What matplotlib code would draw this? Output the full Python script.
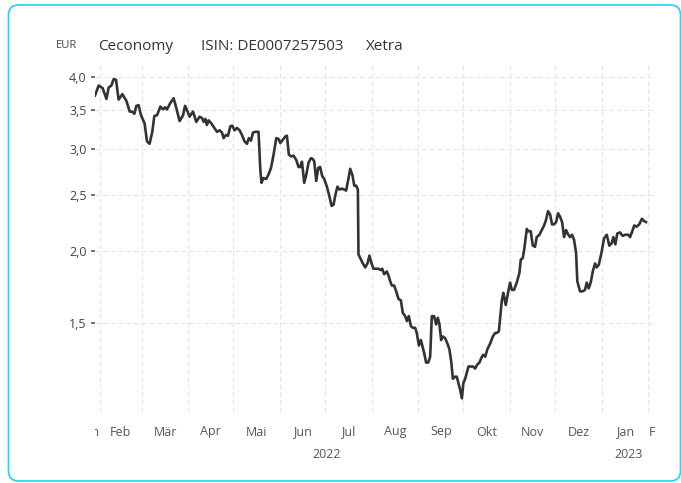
import datetime
import numpy as np
import matplotlib
matplotlib.use('Agg')
import matplotlib.pyplot as plt
import matplotlib.dates as mdates
from matplotlib.patches import FancyBboxPatch
from matplotlib.ticker import FixedLocator, NullLocator, FuncFormatter
from matplotlib.transforms import Bbox, TransformedBbox, blended_transform_factory, IdentityTransform

plt.rcParams['font.family'] = ['Open Sans', 'DejaVu Sans']

# price series (days counted from 2022-02-01)
start = datetime.datetime(2022, 2, 1)
day_offset = [
    -3.1, -0.7, 2.0, 4.5, 6.0, 7.8, 9.3, 10.9, 12.6, 15.1, 17.8, 20.0, 21.5, 23.1, 24.4, 25.9,
    27.5, 29.9, 31.5, 33.2, 35.0, 36.4, 38.2, 40.4, 42.2, 43.5, 44.8, 47.0, 49.2, 51.0, 53.2,
    55.5, 56.8, 58.5, 59.8, 62.1, 64.3, 66.5, 68.1, 69.2, 70.3, 71.4, 72.5, 74.3, 76.3, 78.1,
    79.8, 81.4, 82.5, 84.0, 85.4, 86.9, 88.2, 89.8, 91.4, 93.1, 94.7, 96.4, 98.0, 99.3, 100.7,
    102.0, 103.5, 105.7, 106.9, 107.7, 109.0, 110.8, 112.4, 114.0, 115.7, 117.5, 119.0, 120.2,
    121.9, 123.5, 124.6, 125.9, 127.5, 129.0, 130.8, 132.3, 133.4, 134.6, 136.1, 137.4, 139.0,
    140.6, 141.9, 142.8, 144.1, 145.4, 146.7, 148.1, 149.4, 151.2, 152.9, 154.3, 155.6, 156.9,
    158.2, 159.6, 161.2, 162.7, 164.0, 165.6, 166.7, 168.2, 169.4, 170.7, 171.8, 172.2, 173.8,
    175.1, 176.7, 178.2, 179.5, 180.9, 182.2, 184.0, 185.5, 187.1, 188.0, 189.3, 191.1, 192.2,
    193.3, 194.4, 195.9, 197.3, 198.8, 200.4, 201.7, 203.3, 204.4, 205.7, 207.1, 208.4, 209.9,
    211.0, 212.4, 213.7, 214.6, 215.9, 217.2, 218.6, 219.9, 221.0, 222.5, 223.9, 225.0, 226.1,
    227.2, 228.3, 229.9, 231.4, 232.7, 234.0, 235.0, 236.5, 237.6, 238.7, 239.8, 241.0, 242.0,
    243.2, 244.3, 245.4, 246.9, 248.3, 249.8, 251.3, 252.7, 254.3, 255.3, 256.5, 258.0, 259.8,
    261.6, 263.1, 264.2, 265.6, 267.6, 268.6, 270.2, 271.9, 273.1, 274.2, 275.7, 277.5, 279.3,
    280.2, 281.5, 282.6, 284.2, 285.2, 286.8, 288.2, 289.7, 290.8, 292.6, 294.2, 295.7, 297.0,
    298.3, 299.7, 301.0, 302.3, 303.7, 305.0, 306.3, 307.7, 309.0, 310.3, 311.8, 313.0, 314.3,
    315.6, 317.0, 317.8, 319.6, 321.4, 322.9, 324.1, 325.4, 326.7, 328.1, 329.6, 330.7, 332.1,
    334.0, 335.6, 337.4, 339.1, 340.7, 341.8, 343.1, 344.4, 346.2, 348.0, 349.7, 351.7, 352.9,
    354.4, 355.7, 357.3, 359.0, 360.8, 362.2, 363.5,
]
price = [
    3.71, 3.86, 3.82, 3.66, 3.83, 3.86, 3.96, 3.95, 3.65, 3.73, 3.63, 3.48, 3.48, 3.45, 3.56, 3.57,
    3.43, 3.32, 3.09, 3.06, 3.21, 3.42, 3.43, 3.55, 3.51, 3.54, 3.51, 3.60, 3.67, 3.53, 3.35,
    3.43, 3.56, 3.48, 3.41, 3.48, 3.34, 3.41, 3.39, 3.34, 3.38, 3.30, 3.36, 3.32, 3.26, 3.21,
    3.23, 3.20, 3.13, 3.17, 3.16, 3.28, 3.29, 3.23, 3.26, 3.23, 3.17, 3.09, 3.06, 3.13, 3.10,
    3.20, 3.21, 3.21, 2.76, 2.62, 2.67, 2.66, 2.71, 2.78, 2.93, 3.13, 3.12, 3.07,
    3.11, 3.15, 3.16, 2.93, 2.91, 2.92, 2.87, 2.79, 2.79, 2.85, 2.62, 2.70, 2.84,
    2.89, 2.88, 2.85, 2.64, 2.78, 2.79, 2.69, 2.66, 2.58, 2.48, 2.39, 2.40, 2.50,
    2.58, 2.55, 2.56, 2.55, 2.54, 2.67, 2.77, 2.70, 2.59, 2.59, 2.55, 1.97, 1.93,
    1.90, 1.87, 1.90, 1.96, 1.90, 1.86, 1.86, 1.86, 1.85, 1.86, 1.82, 1.84, 1.81,
    1.77, 1.74, 1.74, 1.70, 1.65, 1.64, 1.56, 1.54, 1.51, 1.54, 1.48, 1.47, 1.47,
    1.44, 1.37, 1.40, 1.37, 1.33, 1.28, 1.28, 1.31, 1.54, 1.54, 1.49, 1.53, 1.49,
    1.40, 1.42, 1.41, 1.38, 1.35, 1.28, 1.20, 1.21, 1.21, 1.18, 1.15, 1.11, 1.18,
    1.20, 1.23, 1.26, 1.26, 1.26, 1.25, 1.27, 1.28, 1.31, 1.32, 1.31, 1.35, 1.38,
    1.42, 1.44, 1.44, 1.45, 1.64, 1.69, 1.61, 1.70, 1.76, 1.71, 1.71, 1.76, 1.83,
    1.93, 1.94, 2.02, 2.18, 2.16, 2.16, 2.04, 2.03, 2.11, 2.13, 2.17, 2.21, 2.26,
    2.34, 2.31, 2.22, 2.22, 2.24, 2.32, 2.29, 2.24, 2.11, 2.17, 2.13, 2.11, 2.13,
    2.09, 1.98, 1.77, 1.70, 1.70, 1.71, 1.76, 1.72, 1.76, 1.84, 1.90, 1.87, 1.89,
    1.99, 2.10, 2.13, 2.04, 2.06, 2.11, 2.05, 2.14, 2.15, 2.12, 2.13, 2.13, 2.11,
    2.16, 2.21, 2.20, 2.22, 2.27, 2.25, 2.24,
]

y_ticks = [1.5, 2.0, 2.5, 3.0, 3.5, 4.0]
month_names = ['Jan', 'Feb', 'Mär', 'Apr', 'Mai', 'Jun', 'Jul', 'Aug', 'Sep', 'Okt', 'Nov', 'Dez']

W, H = 681, 483
fig = plt.figure(figsize=(W / 100, H / 100), dpi=100)
ax = fig.add_axes([95 / W, 1 - 412 / H, 560 / W, 350 / H])

dates = [start + datetime.timedelta(days=d) for d in day_offset]
ax.plot(dates, price, color='#333333', lw=1.9, solid_joinstyle='round', zorder=3)

ax.set_yscale('log')
ax.set_ylim(1.051, 4.24)
ax.yaxis.set_major_locator(FixedLocator(y_ticks))
ax.yaxis.set_minor_locator(NullLocator())
ax.yaxis.set_major_formatter(FuncFormatter(lambda v, p: f'{v:.1f}'.replace('.', ',')))

x0 = mdates.date2num(start) - 3.1
x1 = mdates.date2num(start) + 369.5
ax.set_xlim(x0, x1)

month_starts = [datetime.datetime(2022 + (m // 12), m % 12 + 1, 1) for m in range(1, 14)]
ax.set_xticks([mdates.date2num(d) for d in month_starts])
ax.xaxis.set_minor_locator(NullLocator())
ax.tick_params(axis='x', length=0, labelbottom=False)
ax.tick_params(axis='y', length=3, width=1.2, color='#555555', pad=3,
               labelsize=9, labelcolor='#444444')

for s in ax.spines.values():
    s.set_visible(False)
ax.grid(True, color='#e4e4e4', linestyle=(0, (4, 3)), lw=0.8, zorder=0)

# month labels centred in each month, partial ones clipped to axis range
tr = blended_transform_factory(ax.transData, fig.transFigure)
clip = TransformedBbox(Bbox([[x0, 0], [x1, 1]]), tr)
ylab = 1 - 432 / H
for a, b in zip(month_starts[:-1], month_starts[1:]):
    mid = (mdates.date2num(a) + mdates.date2num(b)) / 2
    ax.text(mid, ylab, month_names[a.month - 1], transform=tr, ha='center', va='center',
            fontsize=9, color='#555555')
t = ax.text(mdates.date2num(month_starts[0]) - 0.6, ylab, 'Jan', transform=tr, ha='right',
            va='center', fontsize=9, color='#555555', clip_on=True)
t.set_clip_box(clip)
t = ax.text(mdates.date2num(month_starts[-1]) + 0.6, ylab, 'Feb', transform=tr, ha='left',
            va='center', fontsize=9, color='#555555', clip_on=True)
t.set_clip_box(clip)

yyear = 1 - 454 / H
ax.text(mdates.date2num(datetime.datetime(2022, 7, 2)), yyear, '2022', transform=tr,
        ha='center', va='center', fontsize=9, color='#555555')
ax.text((mdates.date2num(datetime.datetime(2023, 1, 1)) + x1) / 2, yyear, '2023', transform=tr,
        ha='center', va='center', fontsize=9, color='#555555')

# header
yt = 1 - 46 / H
fig.text(56 / W, yt, 'EUR', fontsize=8, color='#444444', va='center')
fig.text(98 / W, yt, 'Ceconomy', fontsize=11, color='#333333', va='center')
fig.text(201 / W, yt, 'ISIN: DE0007257503', fontsize=11, color='#333333', va='center')
fig.text(366 / W, yt, 'Xetra', fontsize=11, color='#333333', va='center')

# rounded card border
card = FancyBboxPatch((8.5, 2), 672, 476, boxstyle='round,pad=0,rounding_size=10',
                      transform=IdentityTransform(), fill=False, edgecolor='#2fd4f4', lw=1.3)
fig.add_artist(card)

fig.savefig('out.png', dpi=100)
